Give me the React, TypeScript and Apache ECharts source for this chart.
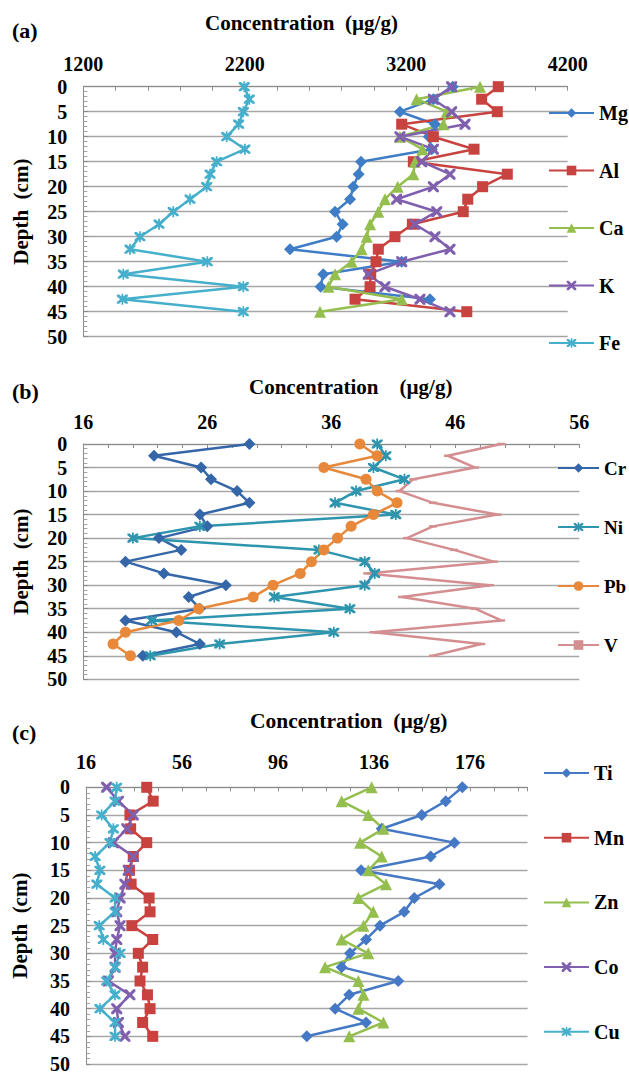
import React, { useEffect, useRef } from "react";
import * as echarts from "echarts";

const depths = [0, 2.5, 5, 7.5, 10, 12.5, 15, 17.5, 20, 22.5, 25, 27.5, 30, 32.5, 35, 37.5, 40, 42.5, 45];
const depthTicks = [0, 5, 10, 15, 20, 25, 30, 35, 40, 45, 50];

// Panel (a)
const mg = [3488, 3368, 3161, 3378, 3340, 3358, 2920, 2905, 2872, 2852, 2759, 2806, 2769, 2480, 3172, 2686, 2670, 3347, null];
const al = [3770, 3667, 3764, 3172, 3368, 3620, 3244, 3826, 3673, 3581, 3553, 3238, 3130, 3027, 3013, 2980, 2976, 2883, 3575];
const ca = [3657, 3264, 3451, 3430, 3161, 3300, 3254, 3244, 3147, 3068, 3027, 2976, 2955, 2924, 2862, 2759, 2718, 3172, 2666];
const k = [3481, 3368, 3481, 3564, 3161, 3368, 3296, 3471, 3368, 3140, 3389, 3254, 3378, 3471, 3172, 2965, 3068, 3285, 3471];
const fe = [2197, 2228, 2191, 2162, 2088, 2201, 2026, 1985, 1964, 1861, 1757, 1669, 1551, 1489, 1968, 1448, 2191, 1442, 2191];
const ticksA = [1200, 2200, 3200, 4200];

// Panel (b)
const cr = [29.4, 21.7, 25.5, 26.3, 28.4, 29.4, 25.4, 26.0, 22.1, 23.9, 19.4, 22.5, 27.5, 24.5, 25.4, 19.4, 23.5, 25.4, 20.8];
const ni = [39.7, 40.4, 39.4, 41.9, 38.0, 36.3, 41.2, 25.4, 20.0, 35.0, 38.7, 39.5, 38.7, 31.4, 37.5, 21.5, 36.2, 27.0, 21.4];
const pb = [38.3, 39.7, 35.4, 38.8, 39.7, 41.3, 39.4, 37.6, 36.5, 35.4, 34.4, 33.5, 31.3, 29.7, 25.3, 23.7, 19.4, 18.4, 19.8];
const v = [49.7, 45.4, 47.6, 42.6, 41.5, 44.2, 49.4, 44.2, 42.1, 45.9, 49.1, 38.9, 48.8, 41.7, 47.6, 49.7, 39.4, 48.1, 44.2];
const ticksB = [16, 26, 36, 46, 56];

// Panel (c)
const ti = [172.8, 165.9, 155.9, 139.2, 169.5, 159.6, 130.6, 163.3, 152.8, 148.6, 138.5, 132.7, 126.0, 122.5, 146.1, 125.7, 119.8, 132.7, 108.0];
const mn = [41.3, 44.0, 34.3, 34.6, 41.3, 35.7, 34.1, 34.8, 42.3, 42.7, 35.1, 43.8, 37.8, 39.6, 38.5, 41.6, 42.7, 39.6, 43.8];
const zn = [135.0, 122.5, 133.6, 139.9, 130.2, 139.2, 133.6, 141.0, 129.5, 135.7, 131.6, 122.5, 133.6, 115.6, 129.5, 131.6, 129.5, 139.9, 125.7];
const co = [24.6, 29.5, 35.7, 33.0, 27.4, 35.7, 33.6, 32.2, 30.2, 28.8, 30.2, 28.8, 28.1, 28.1, 25.3, 34.3, 28.8, 29.5, 32.2];
const cu = [28.8, 28.1, 22.5, 27.4, 26.0, 19.8, 21.8, 20.5, 28.1, 28.1, 21.5, 23.2, 30.2, 28.1, 24.6, 28.1, 21.8, 28.1, 28.1];
const ticksC = [16, 56, 96, 136, 176];

const SERIF = "'Liberation Serif', 'DejaVu Serif', 'Times New Roman', serif";
const NB = "\u00a0";
const X_SYM = "path://M0,0L2,0L5,3L8,0L10,0L10,2L7,5L10,8L10,10L8,10L5,7L2,10L0,10L0,8L3,5L0,2Z";
const STAR_SYM = "path://M0,0L2,0L5,3L8,0L10,0L10,2L7,5L10,8L10,10L8,10L5,7L2,10L0,10L0,8L3,5L0,2Z M4.2,-1L5.8,-1L5.8,11L4.2,11Z";
const DASH_SYM = "path://M0,0L8,0L8,2.5L0,2.5Z";

const toPairs = (arr: (number | null)[]) =>
  depths.map((d, i) => (arr[i] == null ? null : [arr[i], d])).filter((p) => p !== null);

function makeSeries(name: string, arr: (number | null)[], idx: number, color: string, symbol: any, symbolSize: any, keepAspect = false) {
  return {
    name,
    type: "line",
    xAxisIndex: idx,
    yAxisIndex: idx,
    data: toPairs(arr),
    symbol,
    symbolSize,
    symbolKeepAspect: keepAspect,
    lineStyle: { color, width: 2.5 },
    itemStyle: { color, borderWidth: 0 },
    emphasis: { disabled: true },
  };
}

const labelStyle = { fontFamily: SERIF, fontWeight: "bold", fontSize: 20, color: "#000" };

function xAxisDef(idx: number, min: number, max: number, interval: number, labels: number[], margin: number) {
  return {
    type: "value",
    gridIndex: idx,
    position: "top",
    min,
    max,
    interval,
    axisLine: { show: true, lineStyle: { color: "#8C8C8C", width: 1 } },
    axisTick: { show: true, inside: true, length: 4, lineStyle: { color: "#8C8C8C" } },
    splitLine: { show: false },
    axisLabel: {
      ...labelStyle,
      margin,
      showMinLabel: true,
      showMaxLabel: true,
      formatter: (val: number) => (labels.some((t) => Math.abs(t - val) < 1e-6) ? String(val) : ""),
    },
  };
}

function yAxisDef(idx: number, nameGap: number) {
  return {
    type: "value",
    gridIndex: idx,
    inverse: true,
    min: 0,
    max: 50,
    interval: 5,
    name: "Depth" + NB + NB + "(cm)",
    nameLocation: "middle",
    nameRotate: 90,
    nameGap,
    nameTextStyle: { fontFamily: SERIF, fontWeight: "bold", fontSize: 21, color: "#000" },
    axisLine: { show: true, lineStyle: { color: "#8C8C8C", width: 1 } },
    axisTick: { show: true, inside: true, length: 5, lineStyle: { color: "#8C8C8C" } },
    minorTick: { show: true, splitNumber: 5, length: 4, lineStyle: { color: "#A0A0A0" } },
    splitLine: { show: true, lineStyle: { color: "#A6A6A6", width: 1.3 } },
    axisLabel: {
      ...labelStyle,
      margin: 16,
      formatter: (val: number) => (depthTicks.includes(val) ? String(val) : ""),
    },
  };
}

function legendDef(names: string[], left: number, top: number, gap: number, itemWidth: number, fontSize: number) {
  return {
    data: names,
    orient: "vertical",
    left,
    top,
    padding: 0,
    itemGap: gap,
    itemWidth,
    itemHeight: 12,
    selectedMode: false,
    symbolKeepAspect: true,
    textStyle: { fontFamily: SERIF, fontWeight: "bold", fontSize, lineHeight: 20, color: "#000" },
  };
}

function titleDef(text: string, left: number, top: number, size: number) {
  return {
    text,
    left,
    top,
    padding: 0,
    textStyle: { fontFamily: SERIF, fontWeight: "bold", fontSize: size, color: "#000" },
  };
}

export default function App() {
  const ref = useRef<HTMLDivElement>(null);

  useEffect(() => {
    if (!ref.current) return;
    const chart = echarts.init(ref.current, null, { renderer: "svg" });

    const option: any = {
      animation: false,
      backgroundColor: "#fff",
      title: [
        titleDef("(a)", 12, 19, 22),
        titleDef("Concentration" + NB + NB + "(µg/g)", 205, 12, 21),
        titleDef("(b)", 12, 380, 22),
        titleDef("Concentration" + NB + NB + NB + NB + "(µg/g)", 249, 376, 21),
        titleDef("(c)", 12, 721, 22),
        titleDef("Concentration" + NB + NB + "(µg/g)", 250, 710, 21.5),
      ],
      grid: [
        { left: 83.3, top: 86.7, width: 484.4, height: 250 },
        { left: 83.3, top: 444, width: 496, height: 235.3 },
        { left: 86, top: 787.3, width: 441.6, height: 280.4 },
      ],
      xAxis: [
        xAxisDef(0, 1200, 4200, 200, ticksA, 13),
        xAxisDef(1, 16, 56, 2, ticksB, 12),
        xAxisDef(2, 16, 200, 10, ticksC, 15),
      ],
      yAxis: [yAxisDef(0, 52), yAxisDef(1, 52), yAxisDef(2, 56)],
      legend: [
        legendDef(["Mg", "Al", "Ca", "K", "Fe"], 548, 103, 37.5, 45, 20),
        legendDef(["Cr", "Ni", "Pb", "V"], 557, 458, 39, 41, 19),
        legendDef(["Ti", "Mn", "Zn", "Co", "Cu"], 543, 763, 44.7, 45, 20),
      ],
      series: [
        makeSeries("Mg", mg, 0, "#3F7DC6", "diamond", 12),
        makeSeries("Al", al, 0, "#C8423F", "rect", 11),
        makeSeries("Ca", ca, 0, "#94BE4E", "triangle", 12),
        makeSeries("K", k, 0, "#7F5FAE", X_SYM, 11),
        makeSeries("Fe", fe, 0, "#46B0CC", STAR_SYM, 11),

        makeSeries("Cr", cr, 1, "#3466A8", "diamond", 12),
        makeSeries("Ni", ni, 1, "#2E95AE", STAR_SYM, 11),
        makeSeries("Pb", pb, 1, "#E8883A", "circle", 11),
        makeSeries("V", v, 1, "#D48E90", DASH_SYM, 8, true),

        makeSeries("Ti", ti, 2, "#4679C5", "diamond", 12),
        makeSeries("Mn", mn, 2, "#C8423F", "rect", 11),
        makeSeries("Zn", zn, 2, "#94BE4E", "triangle", 12),
        makeSeries("Co", co, 2, "#7F5FAE", X_SYM, 11),
        makeSeries("Cu", cu, 2, "#46B0CC", STAR_SYM, 11),
      ],
    };

    chart.setOption(option);
    return () => chart.dispose();
  }, []);

  return (
    <div
      ref={ref}
      style={{ position: "fixed", left: 0, top: 0, width: 629, height: 1074, background: "#fff" }}
    />
  );
}
